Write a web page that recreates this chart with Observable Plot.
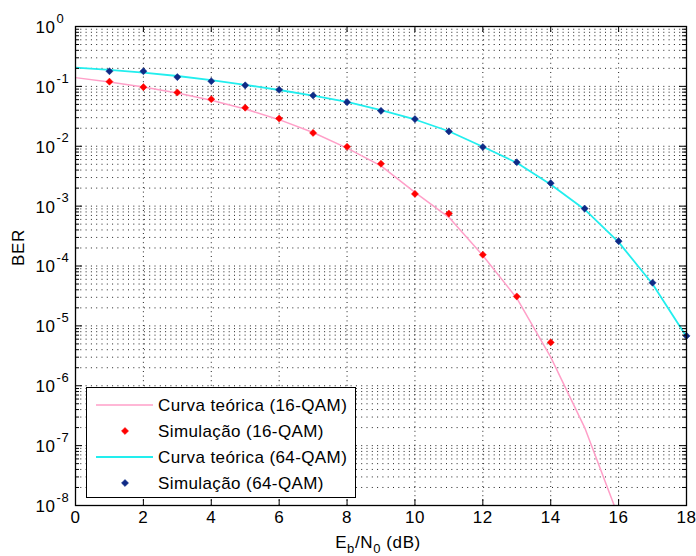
<!DOCTYPE html>
<html><head><meta charset="utf-8">
<script src="https://cdn.jsdelivr.net/npm/d3@7"></script>
<script src="https://cdn.jsdelivr.net/npm/@observablehq/plot@0.6"></script>
<style>
body{margin:0;background:#fff;font-family:"Liberation Sans",Arial,sans-serif;}
#wrap{position:relative;width:696px;height:556px;}
#legend{position:absolute;left:86px;top:387px;width:270px;height:111px;box-sizing:border-box;border:1.5px solid #000;background:#fff;}
</style></head><body><div id="wrap"></div>
<script>
// ---- data ----
const snrTheory16 = [0,1,2,3,4,5,6,7,8,9,10,11,12,13,14,15,16];
const berTheory16 = [0.140,0.118,0.0976,0.0775,0.0586,0.0419,0.0278,0.0170,0.0093,0.0047,0.0017,6.5e-4,1.5e-4,2.9e-5,3.0e-6,2.0e-7,6.4e-9];
const snrSim16 = [1,2,3,4,5,6,7,8,9,10,11,12,13,14];
const berSim16 = [0.120,0.097,0.079,0.061,0.044,0.029,0.0167,0.0098,0.0051,0.0016,7.5e-4,1.54e-4,3.1e-5,5.3e-6];
const snrTheory64 = [0,1,2,3,4,5,6,7,8,9,10,11,12,13,14,15,16,17,18];
const berTheory64 = [0.205,0.188,0.170,0.149,0.127,0.106,0.087,0.070,0.055,0.040,0.0280,0.0178,0.0098,0.0053,0.0023,8.8e-4,2.5e-4,5.0e-5,6.6e-6];
const snrSim64 = [1,2,3,4,5,6,7,8,9,10,11,12,13,14,15,16,17,18];
const berSim64 = [0.179,0.179,0.143,0.122,0.104,0.0877,0.0705,0.0545,0.039,0.0284,0.0177,0.0097,0.0054,0.00242,9.1e-4,2.6e-4,5.25e-5,6.8e-6];

const seriesNames = ["Curva teórica (16-QAM)","Simulação (16-QAM)","Curva teórica (64-QAM)","Simulação (64-QAM)"];
const xTicks = [0,2,4,6,8,10,12,14,16,18];
const xGrid = [2,4,6,8,10,12,14,16];
const yDecades = [-8,-7,-6,-5,-4,-3,-2,-1,0];
const yMinorMult = [2,3,4,5,6,7,8,9];
const xDomain = [0,18];
const yDomain = [1e-8,1];

// ---- styles ----
const pink = "#ff9fc8", red = "#ff0000", cyan = "#22eeee", navy = "#0e2a86";
const W = 696, H = 556, mL = 75, mR = 10, mT = 26, mB = 51;
const fW = W - mL - mR, fH = H - mT - mB;
const LS = "0.6px";

const majorY = yDecades.map(d => 10 ** d);
const minorY = yDecades.slice(0, -1).flatMap(d => yMinorMult.map(m => m * 10 ** d));
const gridY = majorY.concat(minorY).filter(v => v > yDomain[0] && v < yDomain[1]);

const pts = (xs, ys) => xs.map((x, i) => ({x, y: ys[i]}));
const t16 = pts(snrTheory16, berTheory16), s16 = pts(snrSim16, berSim16);
const t64 = pts(snrTheory64, berTheory64), s64 = pts(snrSim64, berSim64);

const chart = Plot.plot({
  width: W, height: H,
  marginLeft: mL, marginRight: mR, marginTop: mT, marginBottom: mB,
  style: {fontFamily: "'Liberation Sans', Arial, sans-serif", fontSize: "17px", background: "#fff", overflow: "visible", letterSpacing: LS},
  x: {domain: xDomain, axis: null},
  y: {type: "log", domain: yDomain, axis: null},
  marks: [
    Plot.ruleY(gridY, {y: d => d, stroke: "#222", strokeWidth: 1, strokeDasharray: "1,4.3"}),
    Plot.ruleX(xGrid, {x: d => d, stroke: "#222", strokeWidth: 1, strokeDasharray: "1,3.6"}),
    Plot.line(t16, {x: "x", y: "y", stroke: pink, strokeWidth: 1.5, clip: true}),
    Plot.line(t64, {x: "x", y: "y", stroke: cyan, strokeWidth: 1.8, clip: true}),
    Plot.dot(s16, {x: "x", y: "y", symbol: "diamond2", r: 3.2, fill: red, stroke: red, strokeWidth: 0.5}),
    Plot.dot(s64, {x: "x", y: "y", symbol: "diamond2", r: 3.2, fill: navy, stroke: navy, strokeWidth: 0.5}),
    // inward ticks
    Plot.tickY(majorY, {y: d => d, insetRight: fW - 7, stroke: "#000"}),
    Plot.tickY(majorY, {y: d => d, insetLeft: fW - 7, stroke: "#000"}),
    Plot.tickY(minorY, {y: d => d, insetRight: fW - 4, stroke: "#000"}),
    Plot.tickY(minorY, {y: d => d, insetLeft: fW - 4, stroke: "#000"}),
    Plot.tickX(xTicks, {x: d => d, insetTop: fH - 6, stroke: "#000"}),
    Plot.tickX(xTicks, {x: d => d, insetBottom: fH - 6, stroke: "#000"}),
    Plot.frame({stroke: "#000", strokeWidth: 1.3}),
    // tick labels
    Plot.text(xTicks, {x: d => d, text: d => String(d), frameAnchor: "bottom", dy: 17, fontSize: 17, fill: "#000"}),
    Plot.text(yDecades, {y: d => 10 ** d, text: () => "10", frameAnchor: "left", textAnchor: "end", dx: -20, dy: 1, fontSize: 17, fill: "#000"}),
    Plot.text(yDecades, {y: d => 10 ** d, text: d => d === 0 ? "0" : "-" + (-d), frameAnchor: "left", textAnchor: "start", dx: -19, dy: -8, fontSize: 13, fill: "#000"}),
    // axis titles
    Plot.text(["BER"], {text: d => d, frameAnchor: "left", rotate: -90, dx: -57, dy: 0, fontSize: 17, fill: "#000"}),
    Plot.text(["E_b/N_0 (dB)"], {text: d => d, frameAnchor: "bottom", dx: -3, dy: 42, fontSize: 17, fill: "#000", className: "xtitle"})
  ]
});

// subscripts in the x title
const xt = d3.select(chart).select("g.xtitle text");
xt.text(null);
xt.append("tspan").text("E");
xt.append("tspan").attr("dy", 5).attr("font-size", 13).text("b");
xt.append("tspan").attr("dy", -5).text("/N");
xt.append("tspan").attr("dy", 5).attr("font-size", 13).text("0");
xt.append("tspan").attr("dy", -5).text(" (dB)");

const wrap = document.getElementById("wrap");
wrap.appendChild(chart);

// legend (inside the axes, bottom-left)
const leg = document.createElement("div");
leg.id = "legend";
wrap.appendChild(leg);
const lsvg = d3.select(leg).append("svg").attr("width", 267).attr("height", 108)
  .style("position", "absolute").style("left", 0).style("top", 0)
  .style("font-family", "'Liberation Sans', Arial, sans-serif").style("font-size", "17px").style("letter-spacing", "0.4px");
const rowY = [17, 43, 69, 95];
const kinds = [{t: "line", c: pink, w: 1.5}, {t: "dot", c: red}, {t: "line", c: cyan, w: 1.8}, {t: "dot", c: navy}];
const diamond = d3.symbol(d3.symbolDiamond2, Math.PI * 3.2 * 3.2)();
seriesNames.forEach((name, i) => {
  const k = kinds[i], y = rowY[i];
  if (k.t === "line") {
    lsvg.append("line").attr("x1", 9).attr("x2", 66).attr("y1", y).attr("y2", y).attr("stroke", k.c).attr("stroke-width", k.w);
  } else {
    lsvg.append("path").attr("d", diamond).attr("transform", `translate(38,${y})`).attr("fill", k.c).attr("stroke", k.c).attr("stroke-width", 0.5);
  }
  lsvg.append("text").attr("x", 71).attr("y", y).attr("dy", "0.35em").attr("fill", "#000").text(name);
});
</script>
</body></html>
